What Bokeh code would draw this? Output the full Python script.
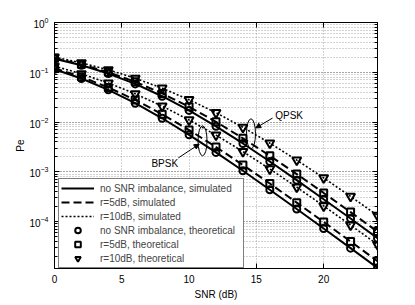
from bokeh.plotting import figure
from bokeh.models import (LinearAxis, LogAxis, Legend, LegendItem, Arrow, NormalHead,
                          CustomJSTickFormatter, FixedTicker, LogTicker, Range1d)
from bokeh.core.properties import value
from bokeh.embed import file_html
from bokeh.resources import INLINE

# ---- data ----
snr_db = [0, 2, 4, 6, 8, 10, 12, 14, 16, 18, 20, 22, 24]

bpsk_equal = [0.115, 0.0748, 0.0443, 0.0239, 0.0119, 0.00553, 0.00245, 0.00105,
              4.36e-4, 1.79e-4, 7.26e-5, 2.92e-5, 1.17e-5]
bpsk_r5 = [0.121, 0.0810, 0.0495, 0.0278, 0.0143, 0.00691, 0.00315, 0.00137,
           5.81e-4, 2.40e-4, 9.82e-5, 3.98e-5, 1.60e-5]
bpsk_r10 = [0.133, 0.0929, 0.0607, 0.0369, 0.0209, 0.0110, 0.00546, 0.00255,
            0.00114, 4.91e-4, 2.06e-4, 8.49e-5, 3.46e-5]
qpsk_equal = [0.187, 0.138, 0.0941, 0.0584, 0.0330, 0.0171, 0.00819, 0.00371,
              0.00161, 6.80e-4, 2.81e-4, 1.15e-4, 4.63e-5]
qpsk_r5 = [0.192, 0.144, 0.100, 0.0642, 0.0376, 0.0202, 0.0101, 0.00471,
           0.00210, 8.99e-4, 3.76e-4, 1.55e-4, 6.28e-5]
qpsk_r10 = [0.201, 0.155, 0.112, 0.0759, 0.0478, 0.0281, 0.0154, 0.00785,
            0.00377, 0.00172, 7.54e-4, 3.20e-4, 1.33e-4]

x_ticks = [0, 5, 10, 15, 20]
legend_labels = ["no SNR imbalance, simulated", "r=5dB, simulated", "r=10dB, simulated",
                 "no SNR imbalance, theoretical", "r=5dB, theoretical", "r=10dB, theoretical"]

FONT = "Liberation Sans"

p = figure(frame_width=323, frame_height=246,
           x_range=Range1d(0, 24), y_range=Range1d(1.14e-5, 1),
           y_axis_type="log", output_backend="svg", toolbar_location=None,
           min_border_left=54, min_border_right=22, min_border_top=22, min_border_bottom=26)
p.background_fill_color = "white"
p.outline_line_color = "black"
p.outline_line_width = 1

# axes
xa = p.xaxis[0]
xa.ticker = FixedTicker(ticks=x_ticks)
xa.axis_label = "SNR (dB)"
ya = p.yaxis[0]
ya.ticker = LogTicker(num_minor_ticks=10)
ya.axis_label = "Pe"
for ax in (xa, ya):
    ax.axis_line_color = "black"
    ax.major_tick_in = 5
    ax.major_tick_out = 0
    ax.minor_tick_in = 3
    ax.minor_tick_out = 0
    ax.major_tick_line_color = "black"
    ax.minor_tick_line_color = "black"
    ax.major_label_text_font = FONT
    ax.major_label_text_font_size = "10px"
    ax.major_label_text_color = "black"
    ax.axis_label_text_font = FONT
    ax.axis_label_text_font_size = "10px"
    ax.axis_label_text_font_style = "normal"
    ax.axis_label_text_color = "black"
xa.minor_tick_line_color = None
xa.major_label_standoff = 6
xa.axis_label_standoff = 3
ya.major_label_standoff = 6
ya.axis_label_standoff = 0

blank = CustomJSTickFormatter(code="return ''")
top = LinearAxis(ticker=FixedTicker(ticks=x_ticks), formatter=blank,
                 major_tick_in=5, major_tick_out=0, minor_tick_line_color=None,
                 axis_line_color="black", major_label_standoff=0)
p.add_layout(top, "above")
right = LogAxis(ticker=LogTicker(num_minor_ticks=10), formatter=blank,
                major_tick_in=5, major_tick_out=0, minor_tick_in=3, minor_tick_out=0,
                axis_line_color="black", major_label_standoff=0)
p.add_layout(right, "right")

# grid
for g in (p.xgrid[0], p.ygrid[0]):
    g.grid_line_color = "#8a8a8a"
    g.grid_line_dash = "1 2"
    g.grid_line_width = 1
    g.grid_line_alpha = 0.75
p.ygrid[0].minor_grid_line_color = "#8a8a8a"
p.ygrid[0].minor_grid_line_dash = "1 2"
p.ygrid[0].minor_grid_line_alpha = 0.75

# lines (simulated)
line_styles = [("solid", 2), ("8 4", 2), ("2 2", 1.6)]
curves = [(bpsk_equal, qpsk_equal), (bpsk_r5, qpsk_r5), (bpsk_r10, qpsk_r10)]
line_rs = []
for (b, q), (dash, lw) in zip(curves, line_styles):
    r1 = p.line(snr_db, b, line_color="black", line_width=lw, line_dash=dash)
    p.line(snr_db, q, line_color="black", line_width=lw, line_dash=dash)
    line_rs.append(r1)

# markers (theoretical)
markers = [("circle", 7), ("square", 7), ("inverted_triangle", 9)]
mark_rs = []
for (b, q), (m, s) in zip(curves, markers):
    r1 = p.scatter(snr_db, b, marker=m, size=s, line_color="black", line_width=2,
                   fill_color=None)
    p.scatter(snr_db, q, marker=m, size=s, line_color="black", line_width=2,
              fill_color=None)
    mark_rs.append(r1)

# annotations: ellipses, arrows, labels
p.ellipse(x=[11.0, 14.6], y=[4.2e-3, 5.8e-3], width=9, height=30,
          width_units="screen", height_units="screen",
          fill_color=None, line_color="black", line_width=1)
p.add_layout(Arrow(end=NormalHead(size=5, fill_color="black", line_color="black"),
                   x_start=9.2, y_start=1.9e-3, x_end=10.75, y_end=3.6e-3,
                   line_color="black", line_width=1))
p.add_layout(Arrow(end=NormalHead(size=5, fill_color="black", line_color="black"),
                   x_start=16.2, y_start=1.2e-2, x_end=14.95, y_end=7.6e-3,
                   line_color="black", line_width=1))
p.text(x=[7.2, 16.4], y=[1.5e-3, 1.37e-2], text=["BPSK", "QPSK"],
       text_font=value(FONT), text_font_size="10px", text_color="black",
       text_align="left", text_baseline="middle")

items = [LegendItem(label=lab, renderers=[r]) for lab, r in zip(legend_labels, line_rs + mark_rs)]
legend = Legend(items=items, location=(4, 0), margin=0, padding=2, spacing=0,
                glyph_width=33, glyph_height=14, label_height=14, label_width=141,
                label_standoff=6, label_text_font=FONT, label_text_font_size="10px",
                border_line_color="black", border_line_width=1,
                background_fill_color="white", background_fill_alpha=1)
p.add_layout(legend, "center")

open("out.html", "w").write(file_html(p, INLINE))
